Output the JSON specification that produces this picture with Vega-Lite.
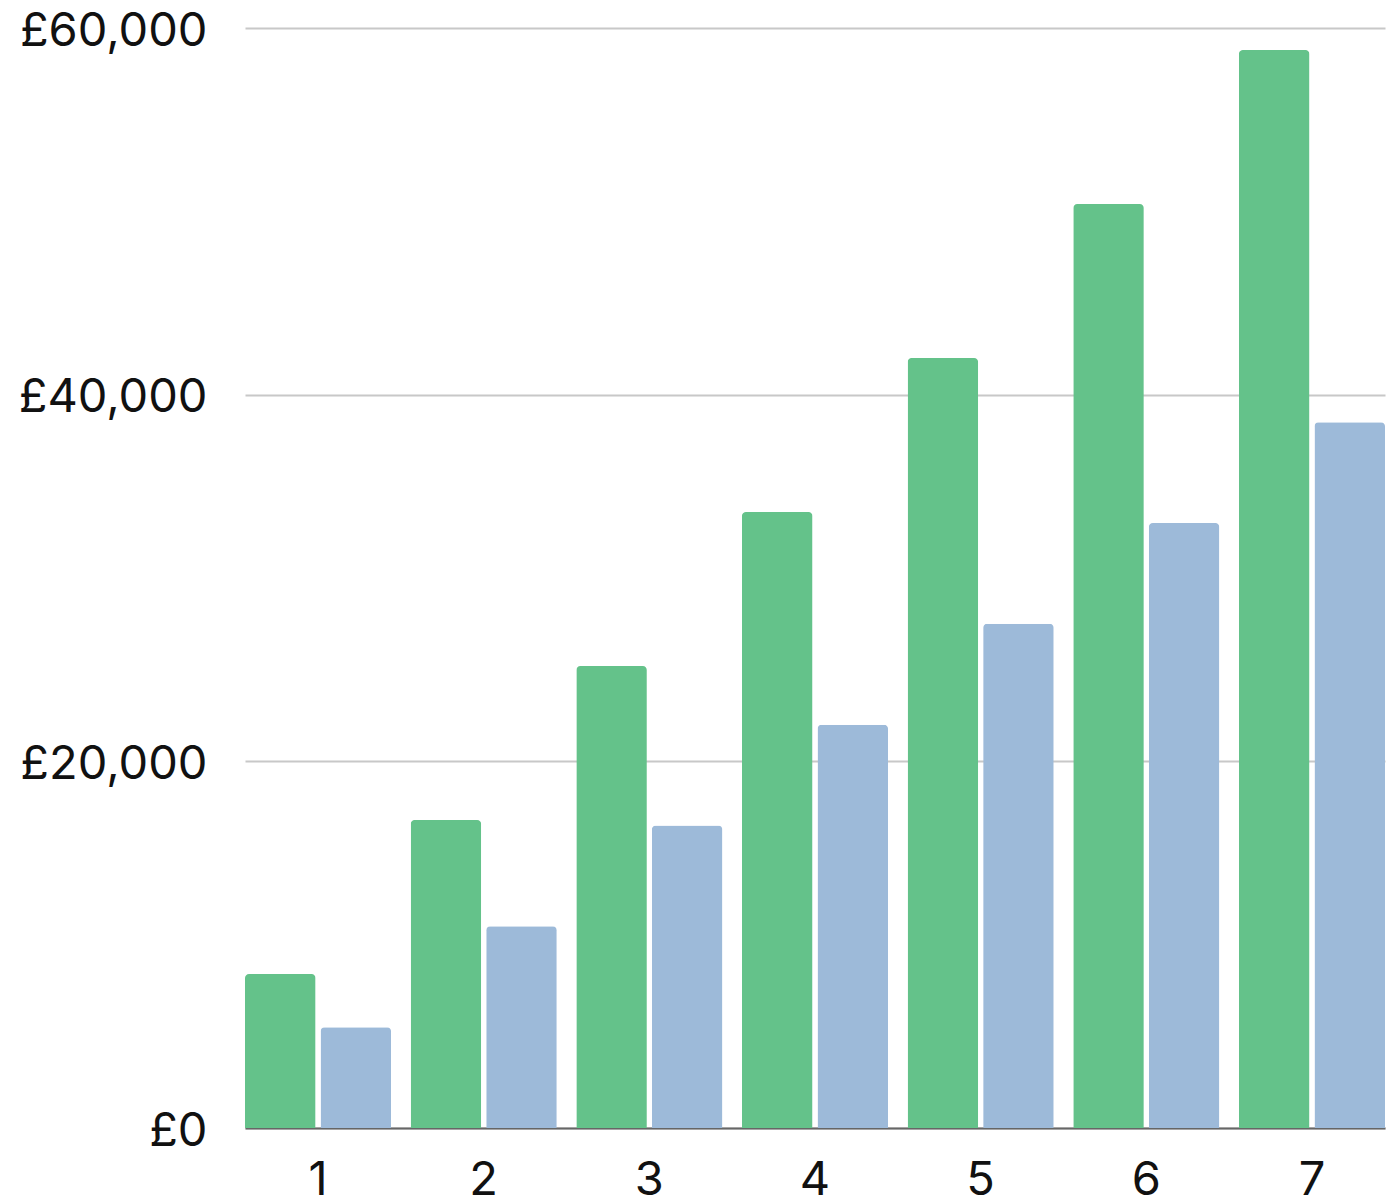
{
  "$schema": "https://vega.github.io/schema/vega-lite/v6.json",
  "width": 1140,
  "height": 1100,
  "autosize": {"type": "none"},
  "padding": {"left": 245, "top": 28, "right": 9, "bottom": 72},
  "background": "white",
  "data": {
    "values": [
      {"year": 1, "series": "A", "value": 8400},
      {"year": 1, "series": "B", "value": 5500},
      {"year": 2, "series": "A", "value": 16800},
      {"year": 2, "series": "B", "value": 11000},
      {"year": 3, "series": "A", "value": 25200},
      {"year": 3, "series": "B", "value": 16500},
      {"year": 4, "series": "A", "value": 33600},
      {"year": 4, "series": "B", "value": 22000},
      {"year": 5, "series": "A", "value": 42000},
      {"year": 5, "series": "B", "value": 27500},
      {"year": 6, "series": "A", "value": 50400},
      {"year": 6, "series": "B", "value": 33000},
      {"year": 7, "series": "A", "value": 58800},
      {"year": 7, "series": "B", "value": 38500}
    ]
  },
  "config": {
    "view": {"stroke": null},
    "font": "Inter",
    "axis": {
      "labelFont": "Inter",
      "labelFontSize": 47,
      "labelColor": "#111111",
      "labelLimit": 0,
      "title": null
    }
  },
  "mark": {"type": "bar", "cornerRadiusTopLeft": 4, "cornerRadiusTopRight": 4},
  "encoding": {
    "x": {
      "field": "year",
      "type": "ordinal",
      "scale": {"paddingInner": 0.118, "paddingOuter": 0},
      "axis": {
        "labelAngle": 0,
        "ticks": false,
        "domain": true,
        "domainColor": "#666666",
        "domainWidth": 2,
        "labelPadding": 29,
        "grid": false
      }
    },
    "xOffset": {
      "field": "series",
      "type": "nominal",
      "scale": {"paddingInner": 0.066, "paddingOuter": 0}
    },
    "y": {
      "field": "value",
      "type": "quantitative",
      "scale": {"domain": [0, 60000], "nice": false},
      "axis": {
        "values": [0, 20000, 40000, 60000],
        "labelExpr": "'£' + format(datum.value, ',')",
        "ticks": false,
        "domain": false,
        "grid": true,
        "gridColor": "#c8c8c8",
        "gridWidth": 2,
        "labelPadding": 38,
        "labelOffset": 3
      }
    },
    "color": {
      "field": "series",
      "type": "nominal",
      "scale": {"domain": ["A", "B"], "range": ["#64c28a", "#9dbad9"]},
      "legend": null
    }
  }
}
